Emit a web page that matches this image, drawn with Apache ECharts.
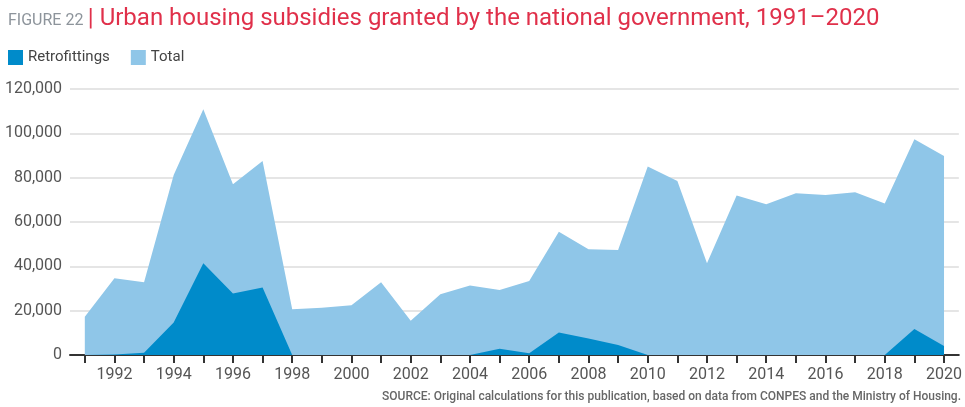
<!DOCTYPE html>
<html style="height: 100%">
<head>
    <meta charset="utf-8">
    <title>Urban housing subsidies</title>
    <script type="text/javascript" src="https://cdn.jsdelivr.net/npm/echarts@6/dist/echarts.min.js"></script>
</head>
<body style="height: 100%; margin: 0; background: #fff;">
<div id="container" style="width: 965px; height: 407px;"></div>
<script type="text/javascript">
    // data
    var years = [1991, 1992, 1993, 1994, 1995, 1996, 1997, 1998, 1999, 2000,
                 2001, 2002, 2003, 2004, 2005, 2006, 2007, 2008, 2009, 2010,
                 2011, 2012, 2013, 2014, 2015, 2016, 2017, 2018, 2019, 2020];
    var totalValues = [17300, 34600, 32800, 81200, 110900, 77000, 87500, 20600, 21300, 22500,
                       32800, 15500, 27400, 31300, 29300, 33400, 55600, 47700, 47400, 85000,
                       78500, 41400, 71900, 68000, 73000, 72200, 73400, 68400, 97300, 89800];
    var retroValues = [0, 200, 1000, 14700, 41400, 27800, 30400, 0, 0, 0,
                       0, 0, 0, 0, 2800, 800, 10200, 7500, 4500, 0,
                       0, 0, 0, 0, 0, 0, 0, 0, 11700, 4100];
    var labelYears = [1992, 1994, 1996, 1998, 2000, 2002, 2004, 2006, 2008, 2010,
                      2012, 2014, 2016, 2018, 2020];

    function pairs(vals) {
        var out = [];
        for (var i = 0; i < years.length; i++) {
            out.push([years[i], vals[i]]);
        }
        return out;
    }

    var myChart = echarts.init(document.getElementById("container"));
    var option = {
        animation: false,
        textStyle: { fontFamily: 'Roboto' },
        title: {
            left: 3,
            top: 2,
            text: '{a|FIGURE 22} {b|| Urban housing subsidies granted by the national government, 1991\u20132020}',
            textStyle: {
                fontWeight: 'normal',
                rich: {
                    a: { fontFamily: 'Roboto', fontSize: 16, fontWeight: 'normal', color: '#8d949b', padding: [3, 0, 0, 0] },
                    b: { fontFamily: 'Roboto', fontSize: 24, fontWeight: 'normal', color: '#e0304a' }
                }
            }
        },
        legend: {
            left: 3,
            top: 45,
            itemWidth: 15,
            itemHeight: 15,
            itemGap: 21,
            icon: 'rect',
            data: ['Retrofittings', 'Total'],
            textStyle: { fontFamily: 'Roboto', fontSize: 15, color: '#444' }
        },
        grid: {
            left: 70,
            right: 3,
            top: 89,
            bottom: 52,
            containLabel: false
        },
        xAxis: {
            type: 'value',
            min: 1990.5,
            max: 2020.5,
            splitLine: { show: false },
            axisLine: { show: true, lineStyle: { color: '#333', width: 2 } },
            axisTick: {
                show: true,
                length: 8,
                customValues: years,
                lineStyle: { color: '#333', width: 2 }
            },
            axisLabel: {
                customValues: labelYears,
                margin: 12,
                fontSize: 16,
                color: '#555',
                formatter: function (v) { return String(v); }
            }
        },
        yAxis: {
            type: 'value',
            min: 0,
            max: 120000,
            interval: 20000,
            axisLine: { show: false },
            axisTick: { show: false },
            splitLine: { lineStyle: { color: '#dcdcdc', width: 1.5 } },
            axisLabel: {
                margin: 8,
                fontSize: 16,
                color: '#555',
                formatter: function (v) { return v.toLocaleString('en-US'); }
            }
        },
        series: [
            {
                name: 'Total',
                type: 'line',
                data: pairs(totalValues),
                showSymbol: false,
                lineStyle: { width: 0 },
                itemStyle: { color: '#8fc6e8' },
                areaStyle: { color: '#8fc6e8', opacity: 1 },
                z: 1
            },
            {
                name: 'Retrofittings',
                type: 'line',
                data: pairs(retroValues),
                showSymbol: false,
                lineStyle: { width: 0 },
                itemStyle: { color: '#008bca' },
                areaStyle: { color: '#008bca', opacity: 1 },
                z: 2
            }
        ],
        graphic: [
            {
                type: 'text',
                right: 4,
                top: 391,
                style: {
                    text: 'SOURCE: Original calculations for this publication, based on data from CONPES and the Ministry of Housing.',
                    font: '500 12px Roboto',
                    fill: '#666'
                }
            }
        ]
    };
    myChart.setOption(option, true);
</script>
</body>
</html>
